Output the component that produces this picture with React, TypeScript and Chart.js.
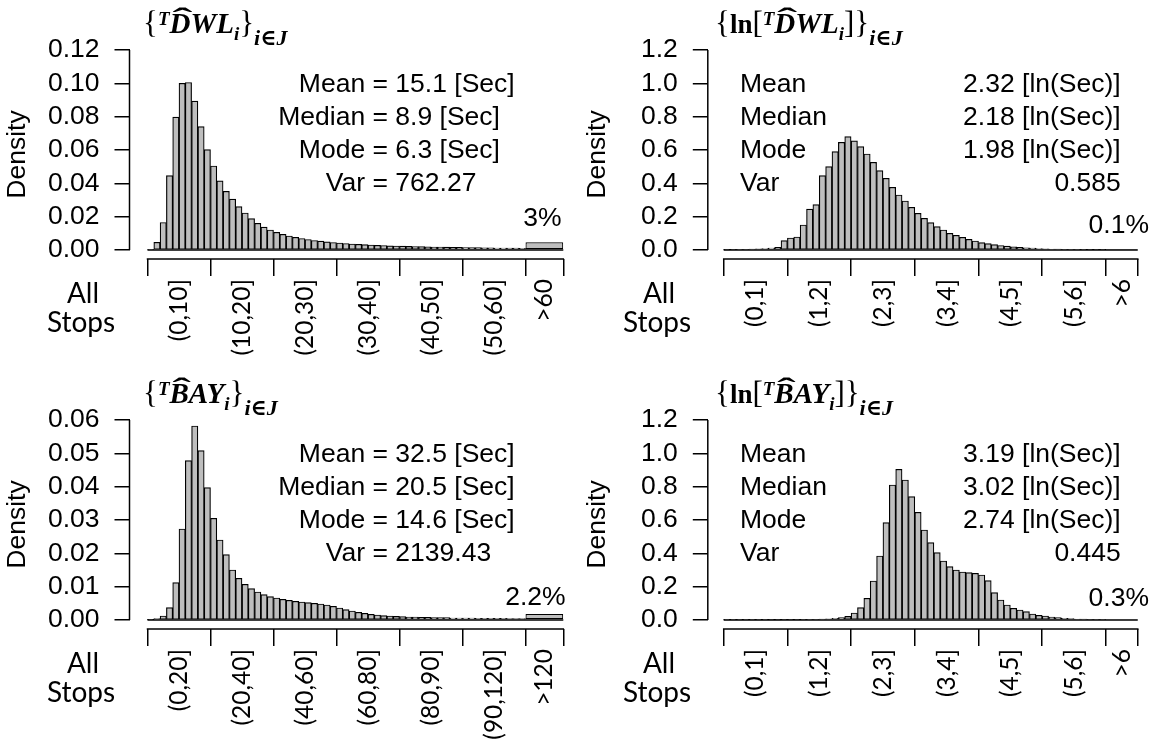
import React, { useEffect, useRef } from "react";
import { Chart, registerables } from "chart.js";

Chart.register(...registerables);

// ---------------- Data ----------------
// {T DWL_i}: density per 1-second bin (0,1] ... (59,60]
const dwlDensity = [
  0.0003, 0.0046, 0.0165, 0.0446, 0.0797, 0.1, 0.1005, 0.0893, 0.074, 0.0602,
  0.0504, 0.0415, 0.0352, 0.0305, 0.026, 0.0222, 0.0188, 0.016, 0.0137, 0.012,
  0.0106, 0.0094, 0.0084, 0.0076, 0.0069, 0.0063, 0.0057, 0.0053, 0.0049, 0.0045,
  0.0042, 0.0039, 0.0036, 0.0034, 0.0032, 0.003, 0.0028, 0.0027, 0.0025, 0.0024,
  0.0023, 0.0022, 0.0021, 0.002, 0.0019, 0.0018, 0.0018, 0.0017, 0.0016, 0.0016,
  0.0015, 0.0014, 0.0014, 0.0013, 0.0013, 0.0012, 0.0012, 0.0011, 0.0011, 0.001,
];
const dwlTailDensity = 0.0046; // >60 (3%)

// {ln[T DWL_i]}: density per 0.1 bin (0,0.1] ... (5.9,6]
const lnDwlDensity = [
  0.001, 0.002, 0.003, 0.004, 0.005, 0.007, 0.009, 0.012, 0.016, 0.056,
  0.072, 0.078, 0.15, 0.245, 0.272, 0.446, 0.5, 0.59, 0.646, 0.68,
  0.655, 0.62, 0.576, 0.526, 0.476, 0.43, 0.376, 0.33, 0.294, 0.256,
  0.22, 0.19, 0.164, 0.14, 0.12, 0.1, 0.088, 0.076, 0.064, 0.054,
  0.044, 0.038, 0.032, 0.027, 0.023, 0.019, 0.016, 0.013, 0.011, 0.009,
  0.007, 0.006, 0.005, 0.004, 0.0035, 0.003, 0.0025, 0.002, 0.002, 0.0015,
];
const lnDwlTailDensity = 0.002; // >6 (0.1%)

// {T BAY_i}: density per 2-second bin (0,2] ... (118,120]
const bayDensity = [
  0.0001, 0.0004, 0.0012, 0.0037, 0.0112, 0.0273, 0.0478, 0.0582, 0.0508, 0.0397,
  0.0305, 0.024, 0.0196, 0.015, 0.0125, 0.0107, 0.0094, 0.0084, 0.0076, 0.007,
  0.0066, 0.0062, 0.0059, 0.0056, 0.0054, 0.0052, 0.005, 0.0048, 0.0045, 0.0041,
  0.0036, 0.0031, 0.0027, 0.0023, 0.002, 0.0017, 0.0015, 0.0013, 0.0012, 0.0011,
  0.001, 0.0009, 0.0009, 0.0008, 0.0008, 0.0007, 0.0007, 0.0007, 0.0006, 0.0006,
  0.0006, 0.0006, 0.0005, 0.0005, 0.0005, 0.0005, 0.0005, 0.0004, 0.0004, 0.0004,
];
const bayTailDensity = 0.0018; // >120 (2.2%)

// {ln[T BAY_i]}: density per 0.1 bin
const lnBayDensity = [
  0.0005, 0.0005, 0.0005, 0.0006, 0.0006, 0.0007, 0.0008, 0.001, 0.0012, 0.0014,
  0.0016, 0.002, 0.0025, 0.003, 0.004, 0.005, 0.007, 0.01, 0.014, 0.022,
  0.042, 0.074, 0.13, 0.234, 0.384, 0.584, 0.81, 0.904, 0.84, 0.74,
  0.646, 0.54, 0.464, 0.404, 0.354, 0.32, 0.3, 0.288, 0.284, 0.28,
  0.27, 0.236, 0.164, 0.12, 0.09, 0.07, 0.06, 0.05, 0.036, 0.028,
  0.024, 0.018, 0.014, 0.01, 0.008, 0.006, 0.005, 0.004, 0.003, 0.003,
];
const lnBayTailDensity = 0.006; // >6 (0.3%)

const dwlTickLabels = ["(0,10]", "(10,20]", "(20,30]", "(30,40]", "(40,50]", "(50,60]", ">60"];
const bayTickLabels = ["(0,20]", "(20,40]", "(40,60]", "(60,80]", "(80,90]", "(90,120]", ">120"];
const lnTickLabels = ["(0,1]", "(1,2]", "(2,3]", "(3,4]", "(4,5]", "(5,6]", ">6"];

const dwlYTicks = [0, 0.02, 0.04, 0.06, 0.08, 0.1, 0.12];
const bayYTicks = [0, 0.01, 0.02, 0.03, 0.04, 0.05, 0.06];
const lnYTicks = [0, 0.2, 0.4, 0.6, 0.8, 1.0, 1.2];

const dwlStats = [["Mean", "15.1 [Sec]"], ["Median", "8.9 [Sec]"], ["Mode", "6.3 [Sec]"], ["Var", "762.27"]];
const lnDwlStats = [["Mean", "2.32 [ln(Sec)]"], ["Median", "2.18 [ln(Sec)]"], ["Mode", "1.98 [ln(Sec)]"], ["Var", "0.585"]];
const bayStats = [["Mean", "32.5 [Sec]"], ["Median", "20.5 [Sec]"], ["Mode", "14.6 [Sec]"], ["Var", "2139.43"]];
const lnBayStats = [["Mean", "3.19 [ln(Sec)]"], ["Median", "3.02 [ln(Sec)]"], ["Mode", "2.74 [ln(Sec)]"], ["Var", "0.445"]];

// ---------------- Styles ----------------
const SANS = "'Liberation Sans', Arial, sans-serif";
const SERIF = "'Liberation Serif', 'DejaVu Serif', serif";
const CALI = "Lato, 'Open Sans', sans-serif";
const FILL = "#bebebe";
const FS = 26.5;

type Seg = { t: string; font: string; dy: number; hat?: boolean };
const bi = (px: number) => `italic bold ${px}px ${SERIF}`;
const rg = (px: number) => `${px}px ${SERIF}`;
const bd = (px: number) => `bold ${px}px ${SERIF}`;

function titleSegs(sym: string, withLn: boolean): Seg[] {
  const core: Seg[] = [
    { t: "T", font: bi(19), dy: -8 },
    { t: sym[0], font: bi(29), dy: 0, hat: true },
    { t: sym.slice(1), font: bi(29), dy: 0 },
    { t: "i", font: bi(19), dy: 7 },
  ];
  const sub: Seg = { t: "i\u2208J", font: bi(22), dy: 12 };
  if (withLn) {
    return [
      { t: "{", font: rg(31), dy: 0 },
      { t: "ln", font: bd(27), dy: 0 },
      { t: "[", font: rg(31), dy: 0 },
      ...core,
      { t: "]", font: rg(31), dy: 0 },
      { t: "}", font: rg(31), dy: 0 },
      sub,
    ];
  }
  return [{ t: "{", font: rg(31), dy: 0 }, ...core, { t: "}", font: rg(31), dy: 0 }, sub];
}

type Geo = { axisX: number; zeroX: number; binPx: number; topY: number; zeroY: number; bracketY: number };
const leftGeo: Geo = { axisX: 129.5, zeroX: 147.5, binPx: 6.3, topY: 50, zeroY: 250, bracketY: 259 };
const rightGeo: Geo = { axisX: 127.8, zeroX: 143.7, binPx: 6.37, topY: 50, zeroY: 250, bracketY: 259 };

type PanelCfg = {
  w: number;
  h: number;
  geo: Geo;
  bins: number[];
  binW: number;
  tail: number;
  tailBins: number;
  labels: string[];
  yTicks: number[];
  yDec: number;
  title: Seg[];
  titleX: number;
  stats: string[][];
  statsMode: "eq" | "cols";
  pct: string;
  pctDx: number;
  pctY: number;
  allX: number;
};

function makeDecor(o: any) {
  return {
    id: "rDecor",
    afterDatasetsDraw(chart: any) {
      // R's rect() outlines make a continuous black base line under the bins
      const { ctx } = chart;
      const xs = chart.scales.x;
      const ys = chart.scales.y;
      ctx.save();
      ctx.strokeStyle = "#000";
      ctx.lineWidth = 1.3;
      ctx.beginPath();
      ctx.moveTo(xs.getPixelForValue(0), ys.getPixelForValue(0));
      ctx.lineTo(xs.getPixelForValue(o.xMax), ys.getPixelForValue(0));
      ctx.stroke();
      ctx.restore();
    },
    afterDraw(chart: any) {
      const { ctx, chartArea } = chart;
      const xs = chart.scales.x;
      const ys = chart.scales.y;
      ctx.save();
      ctx.strokeStyle = "#000";
      ctx.lineWidth = 1.5;
      // R-style y axis line (first to last tick)
      ctx.beginPath();
      ctx.moveTo(chartArea.left, ys.getPixelForValue(0));
      ctx.lineTo(chartArea.left, ys.getPixelForValue(o.yMax));
      ctx.stroke();
      // bracket line of the category axis
      const by = chartArea.bottom;
      ctx.beginPath();
      ctx.moveTo(xs.getPixelForValue(0) - 0.75, by);
      ctx.lineTo(xs.getPixelForValue(o.xMax) + 0.75, by);
      ctx.stroke();

      ctx.fillStyle = "#000";
      ctx.textBaseline = "alphabetic";
      // title
      let tx = o.titleX;
      ctx.textAlign = "left";
      for (const s of o.title as Seg[]) {
        ctx.font = s.font;
        ctx.fillText(s.t, tx, 33 + s.dy);
        const lw = ctx.measureText(s.t).width;
        if (s.hat) {
          ctx.save();
          ctx.font = `bold 28px ${SERIF}`;
          const hw = ctx.measureText("\u02C6").width;
          ctx.translate(tx + lw * 0.5 + 2.5, 33 - 6);
          ctx.scale((lw * 0.95) / hw, 1);
          ctx.textAlign = "center";
          ctx.fillText("\u02C6", 0, 0);
          ctx.restore();
        }
        tx += lw;
      }
      // stats
      ctx.font = `${FS}px ${SANS}`;
      const rows = [91.5, 124.5, 157.5, 190.5];
      (o.stats as string[][]).forEach((r, i) => {
        if (o.statsMode === "eq") {
          ctx.textAlign = "right";
          ctx.fillText(r[0] + " ", 372.5, rows[i]);
          ctx.textAlign = "left";
          ctx.fillText("= " + r[1], 372.5, rows[i]);
        } else {
          ctx.textAlign = "left";
          ctx.fillText(r[0], 160, rows[i]);
          ctx.textAlign = "right";
          ctx.fillText(r[1], 540.7, rows[i]);
        }
      });
      // tail percentage
      ctx.textAlign = "center";
      ctx.fillText(o.pct, xs.getPixelForValue(o.tailCenter) + o.pctDx, o.pctY);
      // "All Stops"
      ctx.font = `28px ${CALI}`;
      ctx.fillText("All", o.allX, 303);
      ctx.fillText("Stops", o.allX - 2, 332);
      ctx.restore();
    },
  };
}

function Panel({ cfg, left, top }: { cfg: PanelCfg; left: number; top: number }) {
  const ref = useRef<HTMLCanvasElement | null>(null);
  useEffect(() => {
    if (!ref.current) return;
    const { geo, bins, binW, tailBins, w, h } = cfg;
    const nb = bins.length;
    const xMax = (nb + tailBins) * binW;
    const xMin = -((geo.zeroX - geo.axisX) / geo.binPx) * binW;
    const chartRight = geo.zeroX + (nb + tailBins) * geo.binPx;
    const yMax = cfg.yTicks[cfg.yTicks.length - 1];
    const yMin = -((geo.bracketY - geo.zeroY) / (geo.zeroY - geo.topY)) * yMax;
    const tickMarks = [0, 1, 2, 3, 4, 5, 6].map((k) => k * 10 * binW).concat([xMax]);
    const labelPos = [0, 1, 2, 3, 4, 5].map((k) => (k * 10 + 5) * binW).concat([(nb + tailBins / 2) * binW]);
    const tailCenter = (nb + tailBins / 2) * binW;

    const barStyle = {
      backgroundColor: FILL,
      borderColor: "#000",
      borderWidth: 1.2,
      borderSkipped: false,
      categoryPercentage: 1,
      grouped: false,
      xAxisID: "x",
      yAxisID: "y",
    };

    const decor = makeDecor({
      yMax,
      xMax,
      tailCenter,
      title: cfg.title,
      titleX: cfg.titleX,
      stats: cfg.stats,
      statsMode: cfg.statsMode,
      pct: cfg.pct,
      pctDx: cfg.pctDx,
      pctY: cfg.pctY,
      allX: cfg.allX,
    });

    const config: any = {
      type: "bar",
      data: {
        datasets: [
          { ...barStyle, barPercentage: 1, data: bins.map((v, i) => ({ x: (i + 0.5) * binW, y: v })) },
          { ...barStyle, barPercentage: tailBins, data: [{ x: tailCenter, y: cfg.tail }] },
        ],
      },
      options: {
        responsive: false,
        animation: false,
        events: [],
        layout: { padding: { left: 0, top: geo.topY, right: w - chartRight, bottom: 0 } },
        plugins: {
          legend: { display: false },
          tooltip: { enabled: false },
        },
        scales: {
          x: {
            type: "linear",
            position: "bottom",
            offset: false,
            min: xMin,
            max: xMax,
            afterBuildTicks: (s: any) => {
              s.ticks = tickMarks.map((v) => ({ value: v }));
            },
            afterFit: (s: any) => {
              s.height = 17;
            },
            ticks: { display: false },
            grid: {
              display: true,
              offset: false,
              drawOnChartArea: false,
              drawTicks: true,
              tickLength: 17,
              color: "#000",
              lineWidth: 1.5,
            },
            border: { display: false },
          },
          x2: {
            type: "linear",
            position: "bottom",
            offset: false,
            weight: 1,
            min: xMin,
            max: xMax,
            afterBuildTicks: (s: any) => {
              s.ticks = labelPos.map((v) => ({ value: v }));
            },
            afterFit: (s: any) => {
              s.height = h - geo.bracketY - 17;
            },
            ticks: {
              autoSkip: false,
              maxRotation: 90,
              minRotation: 90,
              padding: 3,
              color: "#000",
              font: { family: CALI, size: 24.5 },
              callback: (_v: any, i: number) => cfg.labels[i],
            },
            grid: { display: false, drawTicks: false, offset: false },
            border: { display: false },
          },
          y: {
            type: "linear",
            min: yMin,
            max: yMax,
            afterBuildTicks: (s: any) => {
              s.ticks = cfg.yTicks.map((v) => ({ value: v }));
            },
            afterFit: (s: any) => {
              s.width = geo.axisX;
            },
            ticks: {
              autoSkip: false,
              padding: 15,
              color: "#000",
              font: { family: SANS, size: FS },
              callback: (v: any) => Number(v).toFixed(cfg.yDec),
            },
            grid: { display: true, drawOnChartArea: false, drawTicks: true, tickLength: 15, color: "#000", lineWidth: 1.5 },
            border: { display: false },
            title: {
              display: true,
              text: "Density",
              color: "#000",
              font: { family: SANS, size: FS },
              padding: { top: 2, bottom: 0 },
            },
          },
        },
      },
      plugins: [decor],
    };
    const chart = new Chart(ref.current, config);
    return () => chart.destroy();
  }, [cfg]);
  return (
    <canvas
      ref={ref}
      width={cfg.w}
      height={cfg.h}
      style={{ position: "absolute", left, top, width: cfg.w, height: cfg.h }}
    />
  );
}

const panels: { cfg: PanelCfg; left: number; top: number }[] = [
  {
    left: 0,
    top: 0,
    cfg: {
      w: 580, h: 370, geo: leftGeo, bins: dwlDensity, binW: 1, tail: dwlTailDensity, tailBins: 6,
      labels: dwlTickLabels, yTicks: dwlYTicks, yDec: 2, title: titleSegs("DWL", false), titleX: 143,
      stats: dwlStats, statsMode: "eq", pct: "3%", pctDx: -2, pctY: 226, allX: 83,
    },
  },
  {
    left: 580,
    top: 0,
    cfg: {
      w: 581, h: 370, geo: rightGeo, bins: lnDwlDensity, binW: 0.1, tail: lnDwlTailDensity, tailBins: 5,
      labels: lnTickLabels, yTicks: lnYTicks, yDec: 1, title: titleSegs("DWL", true), titleX: 135,
      stats: lnDwlStats, statsMode: "cols", pct: "0.1%", pctDx: -3, pctY: 233, allX: 79,
    },
  },
  {
    left: 0,
    top: 370,
    cfg: {
      w: 580, h: 372, geo: leftGeo, bins: bayDensity, binW: 2, tail: bayTailDensity, tailBins: 6,
      labels: bayTickLabels, yTicks: bayYTicks, yDec: 2, title: titleSegs("BAY", false), titleX: 143,
      stats: bayStats, statsMode: "eq", pct: "2.2%", pctDx: -9, pctY: 235, allX: 83,
    },
  },
  {
    left: 580,
    top: 370,
    cfg: {
      w: 581, h: 372, geo: rightGeo, bins: lnBayDensity, binW: 0.1, tail: lnBayTailDensity, tailBins: 5,
      labels: lnTickLabels, yTicks: lnYTicks, yDec: 1, title: titleSegs("BAY", true), titleX: 135,
      stats: lnBayStats, statsMode: "cols", pct: "0.3%", pctDx: -3, pctY: 236, allX: 79,
    },
  },
];

export default function App() {
  return (
    <div style={{ position: "fixed", left: 0, top: 0, width: 1161, height: 742, background: "#fff", overflow: "hidden" }}>
      {panels.map((p, i) => (
        <Panel key={i} cfg={p.cfg} left={p.left} top={p.top} />
      ))}
    </div>
  );
}
